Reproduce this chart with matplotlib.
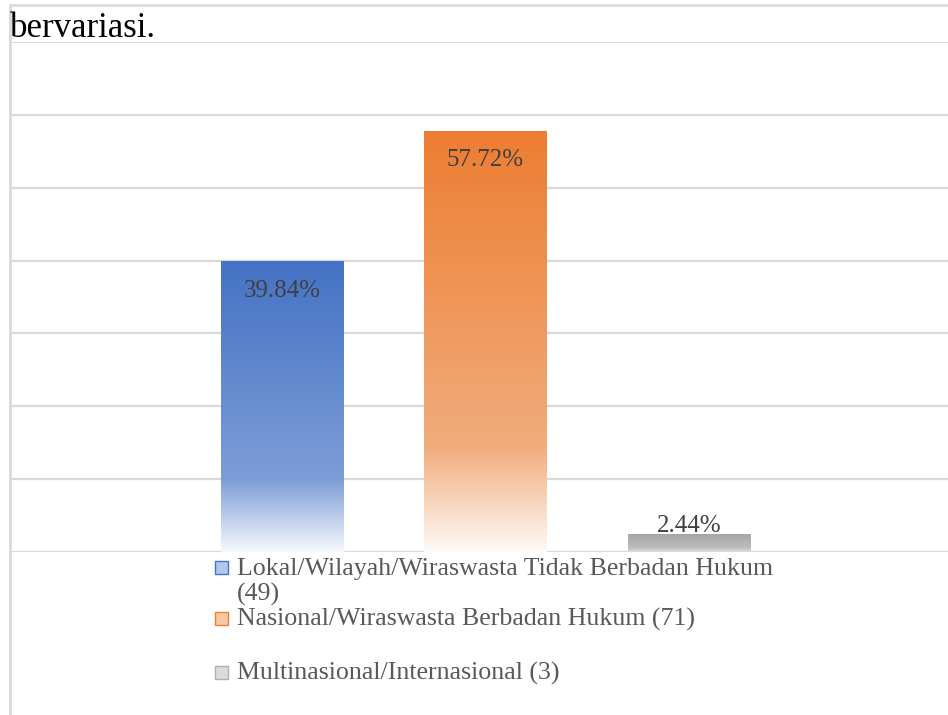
import numpy as np
import matplotlib
matplotlib.use("Agg")
import matplotlib.pyplot as plt
from matplotlib.colors import LinearSegmentedColormap
from matplotlib.patches import Rectangle

# data
kategori = ["Lokal/Wilayah/Wiraswasta Tidak Berbadan Hukum (49)",
            "Nasional/Wiraswasta Berbadan Hukum (71)",
            "Multinasional/Internasional (3)"]
persen = [39.84, 57.72, 2.44]
label_persen = ["39.84%", "57.72%", "2.44%"]
legend_baris = [["Lokal/Wilayah/Wiraswasta Tidak Berbadan Hukum", "(49)"],
                ["Nasional/Wiraswasta Berbadan Hukum (71)"],
                ["Multinasional/Internasional (3)"]]

# warna gradasi: atas, 75%, bawah
warna_bar = [["#4472c4", "#7d9dd7", "#f5f8fd"],
             ["#ed7d31", "#f1ac7c", "#fefaf7"],
             ["#a5a5a5", "#bdbdbd", "#dedede"]]
warna_legend = [("#b4c6ea", "#4472c4"), ("#f8c8a6", "#ed7d31"), ("#dcdcdc", "#b0b0b0")]

plt.rcParams["font.family"] = ["Liberation Serif", "DejaVu Serif"]

W, H = 948, 715
fig = plt.figure(figsize=(W / 100, H / 100), dpi=100)
ax = fig.add_axes([10 / W, 163 / H, 938 / W, 510 / H])

x = np.arange(len(persen))
lebar = 0.6
bars = ax.bar(x, persen, width=lebar, color="none", zorder=3)

grad = np.linspace(0, 1, 256).reshape(-1, 1)
for b, cols in zip(bars, warna_bar):
    cmap = LinearSegmentedColormap.from_list("g", [(0, cols[0]), (0.75, cols[1]), (1, cols[2])])
    x0 = b.get_x()
    ax.imshow(grad, cmap=cmap, aspect="auto", zorder=3,
              extent=(x0, x0 + b.get_width(), 0, b.get_height()), origin="upper")

for b, teks in zip(bars, label_persen):
    h = b.get_height()
    dy = -29 if h > 10 else 8
    ax.annotate(teks, (b.get_x() + b.get_width() / 2, h), xytext=(0, dy),
                textcoords="offset pixels", ha="center", va="center",
                fontsize=18, color="#404040", zorder=5)

ax.set_xlim(-1.3366, 3.2727)
ax.set_ylim(0, 70)
ax.set_yticks(range(0, 71, 10))
ax.yaxis.grid(True, color="#d9d9d9", linewidth=1.6)
ax.set_axisbelow(True)
ax.tick_params(left=False, bottom=False, labelleft=False, labelbottom=False)
for s in ax.spines.values():
    s.set_visible(False)

# garis tepi kiri dan atas
fig.add_artist(plt.Line2D([9.5 / W, 9.5 / W], [0, 1 - 5 / H], color="#d9d9d9", lw=2))
fig.add_artist(plt.Line2D([9.5 / W, 1], [1 - 5 / H, 1 - 5 / H], color="#dcdcdc", lw=2))

fig.text(10 / W, 1 - 37 / H, "bervariasi.", fontsize=25, color="black", va="baseline")

# legenda
baseline = [[575, 601], [626], [680]]
for baris, ys, (fc, ec) in zip(legend_baris, baseline, warna_legend):
    for teks, y in zip(baris, ys):
        fig.text(237 / W, 1 - y / H, teks, fontsize=18.6, color="#595959", va="baseline")
    fig.add_artist(Rectangle((215 / W, 1 - (ys[0] - 1) / H), 13 / W, 13 / H,
                             transform=fig.transFigure, facecolor=fc, edgecolor=ec, lw=1))

fig.savefig("out.png", dpi=100)
